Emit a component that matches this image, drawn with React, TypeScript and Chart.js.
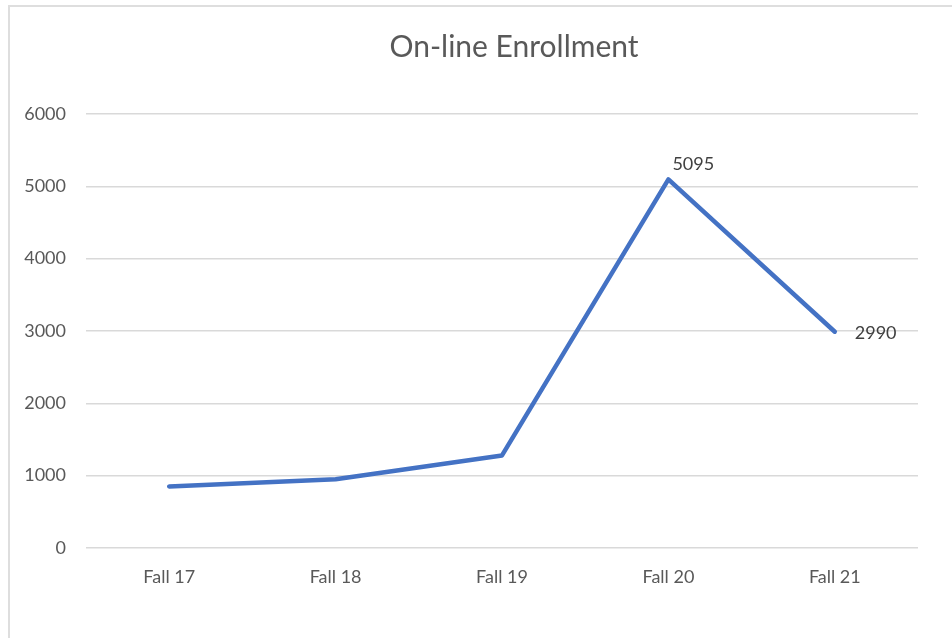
import React, { useEffect, useRef } from "react";
import { Chart, registerables } from "chart.js";

Chart.register(...registerables);

const categories = ["Fall 17", "Fall 18", "Fall 19", "Fall 20", "Fall 21"];
const enrollment = [850, 950, 1280, 5095, 2990];
const labeledIndexes = [3, 4];
const chartTitle = "On-line Enrollment";

const FONT = "Lato, 'Open Sans', sans-serif";

const labelPlugin = {
  id: "customText",
  afterDatasetsDraw(chart: any) {
    const ctx = chart.ctx;
    const meta = chart.getDatasetMeta(0);
    ctx.save();
    // title
    ctx.fillStyle = "#595959";
    ctx.font = `30px ${FONT}`;
    ctx.textAlign = "center";
    ctx.textBaseline = "alphabetic";
    ctx.fillText(chartTitle, chart.width / 2, 50);
    // data labels
    ctx.fillStyle = "#404040";
    ctx.font = `18px ${FONT}`;
    labeledIndexes.forEach((i, k) => {
      const p = meta.data[i];
      const txt = String(enrollment[i]);
      if (k === 0) {
        ctx.textAlign = "left";
        ctx.textBaseline = "bottom";
        ctx.fillText(txt, p.x + 4, p.y - 6);
      } else {
        ctx.textAlign = "left";
        ctx.textBaseline = "middle";
        ctx.fillText(txt, p.x + 20, p.y + 1);
      }
    });
    ctx.restore();
  },
};

export default function App() {
  const ref = useRef<HTMLCanvasElement>(null);
  useEffect(() => {
    if (!ref.current) return;
    const chart = new Chart(ref.current, {
      type: "line",
      data: {
        labels: categories,
        datasets: [
          {
            data: enrollment,
            borderColor: "#4472C4",
            borderWidth: 4.5,
            pointRadius: 0,
            tension: 0,
            borderCapStyle: "round",
            borderJoinStyle: "round",
          },
        ],
      },
      options: {
        animation: false,
        responsive: false,
        maintainAspectRatio: false,
        layout: { padding: { top: 107, right: 100, left: 0, bottom: 0 } },
        plugins: {
          legend: { display: false },
          title: { display: false },
          tooltip: { enabled: false },
        },
        scales: {
          x: {
            offset: true,
            grid: { display: false, drawTicks: false },
            border: { display: false },
            ticks: { color: "#595959", font: { family: FONT, size: 18 }, padding: 18 },
            afterFit: (s: any) => {
              s.height = 159;
            },
          },
          y: {
            min: 0,
            max: 6000,
            ticks: {
              stepSize: 1000,
              color: "#595959",
              font: { family: FONT, size: 18 },
              padding: 20,
              callback: (v: any) => String(v),
            },
            grid: { color: "#d9d9d9", lineWidth: 1.5, drawTicks: false },
            border: { display: false },
            afterFit: (s: any) => {
              s.width = 76;
            },
          },
        },
      },
      plugins: [labelPlugin],
    });
    return () => chart.destroy();
  }, []);
  return (
    <div style={{ position: "fixed", left: 0, top: 0, width: 952, height: 638, overflow: "hidden", background: "#fff" }}>
      <div
        style={{
          position: "absolute",
          left: 8,
          top: 5,
          width: 1008,
          height: 700,
          border: "2px solid #dedede",
        }}
      >
        <canvas ref={ref} width={1008} height={700} style={{ display: "block", width: 1008, height: 700 }} />
      </div>
    </div>
  );
}
